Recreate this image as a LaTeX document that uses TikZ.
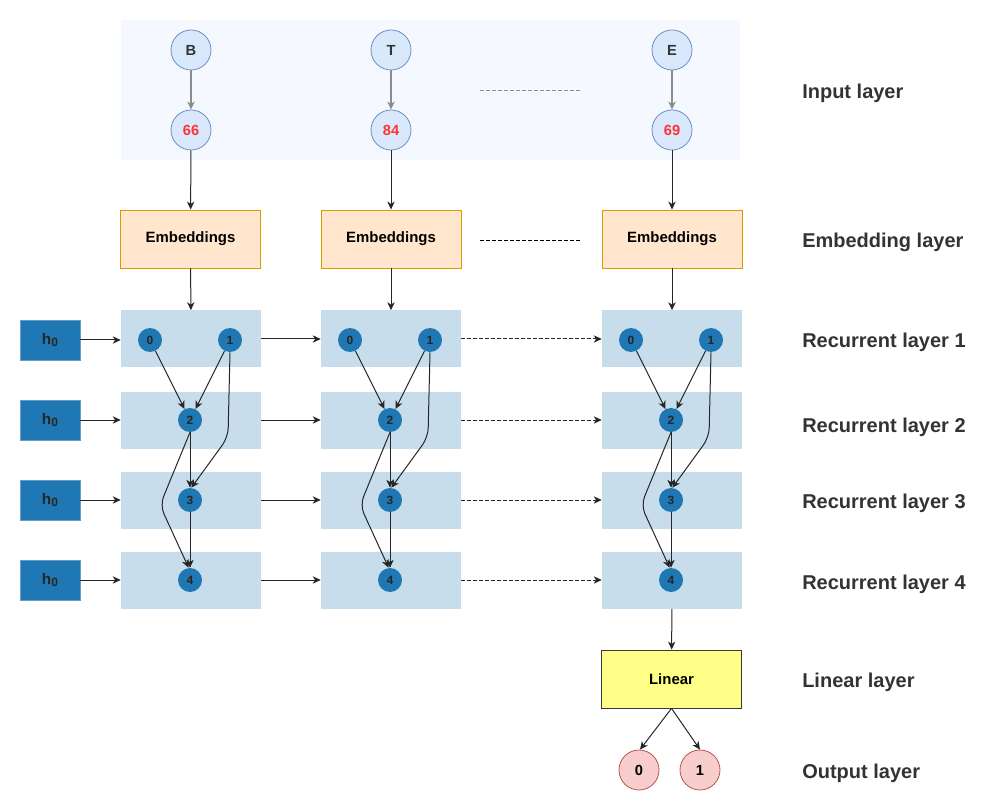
\documentclass[tikz,border=0pt]{standalone}
\usepackage{fontspec}
\setmainfont{Liberation Sans}
\usetikzlibrary{arrows.meta,calc}
\definecolor{inbg}{HTML}{F5F9FF}
\definecolor{cfill}{HTML}{DAE8FC}
\definecolor{cdraw}{HTML}{6C8EBF}
\definecolor{efill}{HTML}{FFE6CC}
\definecolor{edraw}{HTML}{D79B00}
\definecolor{rfill}{HTML}{C7DDEC}
\definecolor{nblue}{HTML}{1F77B4}
\definecolor{lfill}{HTML}{FFFF88}
\definecolor{ldraw}{HTML}{36393D}
\definecolor{ofill}{HTML}{F8CECC}
\definecolor{odraw}{HTML}{B85450}
\definecolor{txt}{HTML}{333333}
\definecolor{redtxt}{HTML}{FF3333}
\definecolor{lgray}{HTML}{8C8C8C}
\tikzset{
  arr/.style={-{Stealth[length=6pt,width=5.5pt,inset=1.8pt]}, draw=black!85, line width=0.75pt},
  garr/.style={-{Stealth[length=6pt,width=5.5pt,inset=1.8pt]}, draw=lgray, line width=0.9pt},
  inc/.style={circle, fill=cfill, draw=cdraw, line width=0.6pt, minimum size=30pt, inner sep=0pt, font=\bfseries\fontsize{11}{13}\selectfont, text=txt},
  emb/.style={rectangle, fill=efill, draw=edraw, line width=0.6pt, minimum width=105pt, minimum height=43.5pt, inner sep=0pt, font=\bfseries\fontsize{11.2}{13}\selectfont},
  rec/.style={rectangle, fill=rfill, minimum width=105pt, minimum height=42.75pt, inner sep=0pt},
  rn/.style={circle, fill=nblue, minimum size=18pt, inner sep=0pt, font=\bfseries\fontsize{9}{10}\selectfont, text=black!85},
  hbox/.style={rectangle, fill=nblue, draw=nblue!70!white, line width=0.5pt, minimum width=45pt, minimum height=30pt, inner sep=0pt, font=\bfseries\fontsize{11.5}{13}\selectfont, text=black!85},
  lay/.style={anchor=west, font=\bfseries\fontsize{15}{18}\selectfont, text=txt, inner sep=0pt},
  outc/.style={circle, fill=ofill, draw=odraw, line width=0.6pt, minimum size=30pt, inner sep=0pt, font=\bfseries\fontsize{11}{13}\selectfont, text=black},
}
\newcommand{\hnull}{h\raisebox{-0.35ex}{\fontsize{9}{10}\selectfont 0}}
\begin{document}
\begin{tikzpicture}[x=0.75pt,y=-0.75pt]
\useasboundingbox (0,0) rectangle (981,791);
% input background
\fill[inbg] (121,20) rectangle (740,160);
% input circles
\node[inc] (cB) at (191,50) {B};
\node[inc] (cT) at (391,50) {T};
\node[inc] (cE) at (672,50) {E};
\node[inc, text=redtxt] (c66) at (191,130) {66};
\node[inc, text=redtxt] (c84) at (391,130) {84};
\node[inc, text=redtxt] (c69) at (672,130) {69};
\draw[garr] (cB) -- (c66);
\draw[garr] (cT) -- (c84);
\draw[garr] (cE) -- (c69);
\coordinate (d1a) at (480,90); \coordinate (d1b) at (580,90);
\draw[lgray, dash pattern=on 3pt off 1.5pt, line width=0.7pt] (d1a) -- (d1b);
% embeddings
\node[emb] (e1) at (190.5,239) {Embeddings};
\node[emb] (e2) at (391,239) {Embeddings};
\node[emb] (e3) at (672,239) {Embeddings};
\draw[arr] (c66) -- (e1);
\draw[arr] (c84) -- (e2);
\draw[arr] (c69) -- (e3);
\coordinate (d2a) at (480,240); \coordinate (d2b) at (580,240);
\draw[black, dash pattern=on 3pt off 1.5pt, line width=0.7pt] (d2a) -- (d2b);
% recurrent blocks
\foreach \c/\cx in {1/191,2/391,3/672}{
  \foreach \r/\ry in {1/339,2/420,3/500,4/580}{
    \node[rec] (r\c\r) at (\cx,\ry) {};
  }
  \node[rn] (n\c0) at (\cx-41,340) {0};
  \node[rn] (n\c1) at (\cx+39,340) {1};
  \node[rn] (n\c2) at (\cx-1,420) {2};
  \node[rn] (n\c3) at (\cx-1,500) {3};
  \node[rn] (n\c4) at (\cx-1,580) {4};
  \draw[arr] (n\c0) -- (n\c2);
  \draw[arr] (n\c1) -- (n\c2);
  \draw[arr] (n\c2) -- (n\c3);
  \draw[arr] (n\c3) -- (n\c4);
  \draw[arr, rounded corners=7pt] (n\c1.south) -- ++(-2,85) -- ([xshift=1pt]n\c3.north);
  \draw[arr, rounded corners=7pt] (n\c2.south) -- ++(-30,73) -- ([xshift=-1pt]n\c4.north);
}
\draw[arr] (e1) -- (r11);
\draw[arr] (e2) -- (r21);
\draw[arr] (e3) -- (r31);
% h0 boxes
\foreach \r/\ry in {1/340,2/420,3/500,4/580}{
  \node[hbox] (h\r) at (50,\ry) {\hnull};
  \draw[arr] (h\r) -- (r1\r.west |- h\r);
  \draw[arr] (r1\r.east) -- (r2\r.west);
  \draw[arr, dash pattern=on 3pt off 1.5pt] (r2\r.east) -- (r3\r.west);
}
% linear
\node[rectangle, fill=lfill, draw=ldraw, line width=0.6pt, minimum width=105pt, minimum height=43.5pt, inner sep=0pt, font=\bfseries\fontsize{11.2}{13}\selectfont] (lin) at (671.5,679) {Linear};
\draw[arr] (r34) -- (lin);
\node[outc] (o0) at (639,770) {0};
\node[outc] (o1) at (700,770) {1};
\draw[arr] (lin.south) -- ([xshift=0.75pt]o0.north);
\draw[arr] (lin.south) -- (o1.north);
% layer labels
\begin{scope}[yshift=-1.5pt]
\node[lay] (l1) at (802,91) {Input layer};
\node[lay] (l2) at (802,240) {Embedding layer};
\node[lay] (l3) at (802,340) {Recurrent layer 1};
\node[lay] (l4) at (802,425) {Recurrent layer 2};
\node[lay] (l5) at (802,501) {Recurrent layer 3};
\node[lay] (l6) at (802,582) {Recurrent layer 4};
\node[lay] (l7) at (802,680) {Linear layer};
\node[lay] (l8) at (802,771) {Output layer};
\end{scope}
\end{tikzpicture}
\end{document}
